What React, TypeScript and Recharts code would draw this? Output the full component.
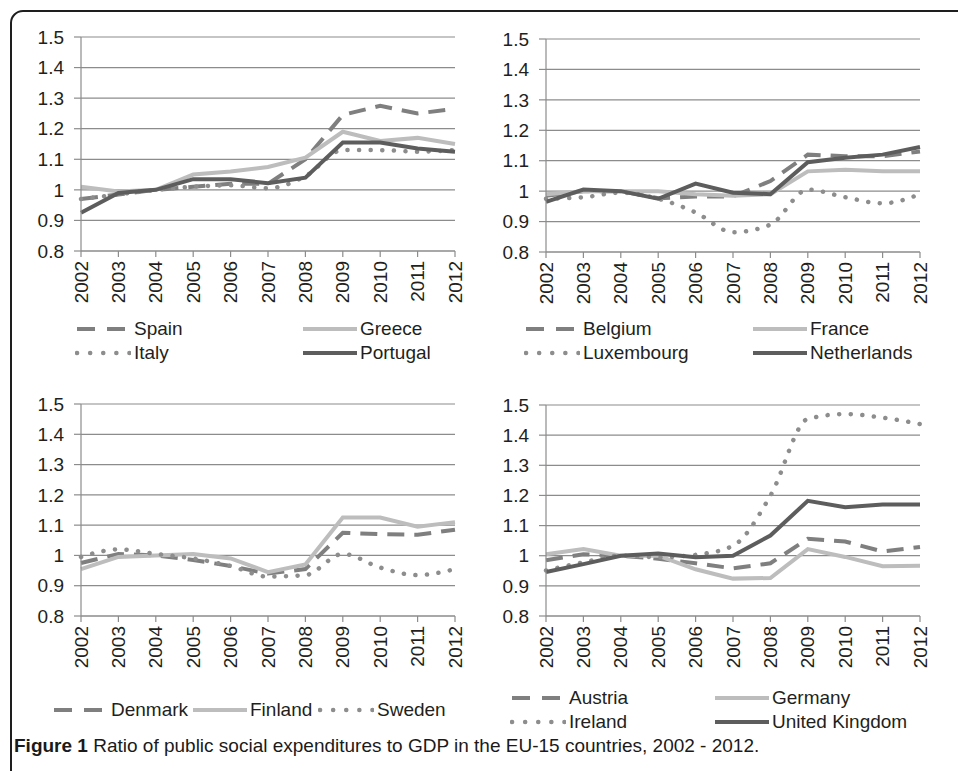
import { LineChart, Line, XAxis, YAxis, CartesianGrid, Legend } from "recharts"

const YEARS = ["2002", "2003", "2004", "2005", "2006", "2007", "2008", "2009", "2010", "2011", "2012"]
const TICKS = [0.8, 0.9, 1, 1.1, 1.2, 1.3, 1.4, 1.5]

// southern
const SPAIN = [0.97, 0.985, 1.0, 1.01, 1.02, 1.02, 1.1, 1.245, 1.275, 1.25, 1.265]
const GREECE = [1.01, 0.995, 1.0, 1.05, 1.06, 1.075, 1.105, 1.19, 1.16, 1.17, 1.15]
const ITALY = [0.97, 0.985, 1.0, 1.01, 1.015, 1.005, 1.045, 1.13, 1.13, 1.125, 1.13]
const PORTUGAL = [0.925, 0.99, 1.0, 1.035, 1.035, 1.022, 1.04, 1.155, 1.155, 1.135, 1.125]

// benelux + france
const BELGIUM = [0.985, 1.0, 1.0, 0.977, 0.982, 0.983, 1.033, 1.12, 1.115, 1.115, 1.13]
const FRANCE = [0.99, 1.0, 1.0, 1.0, 0.99, 0.985, 0.99, 1.065, 1.07, 1.065, 1.065]
const LUXEMBOURG = [0.975, 0.98, 0.995, 0.975, 0.93, 0.865, 0.89, 1.005, 0.98, 0.96, 0.99]
const NETHERLANDS = [0.965, 1.005, 1.0, 0.975, 1.025, 0.995, 0.99, 1.095, 1.11, 1.12, 1.145]

// nordic
const DENMARK = [0.975, 1.005, 1.0, 0.985, 0.965, 0.94, 0.955, 1.075, 1.07, 1.068, 1.085]
const FINLAND = [0.955, 0.995, 1.0, 1.005, 0.99, 0.945, 0.97, 1.125, 1.125, 1.095, 1.11]
const SWEDEN = [0.995, 1.02, 1.005, 0.99, 0.965, 0.93, 0.935, 1.005, 0.96, 0.935, 0.955]

// continental + anglo
const AUSTRIA = [0.985, 1.005, 1.0, 0.99, 0.975, 0.958, 0.975, 1.056, 1.047, 1.014, 1.029]
const GERMANY = [1.005, 1.022, 1.0, 1.0, 0.955, 0.924, 0.926, 1.022, 0.996, 0.965, 0.967]
const IRELAND = [0.951, 0.978, 1.0, 0.995, 1.003, 1.033, 1.199, 1.454, 1.47, 1.458, 1.437]
const UK = [0.946, 0.972, 1.0, 1.007, 0.995, 1.0, 1.067, 1.182, 1.161, 1.17, 1.17]

const FONT = "'Liberation Sans', Arial, Helvetica, sans-serif"
const TEXT = "#231f20"
const GRID = "#8c8c8c"

const STYLES: any = {
  dash: { stroke: "#7f7f7f", strokeWidth: 4, strokeDasharray: "17 10" },
  light: { stroke: "#bdbdbd", strokeWidth: 4 },
  dot: { stroke: "#8d8d8d", strokeWidth: 4.5, strokeDasharray: "0.1 11.5", strokeLinecap: "round" },
  dark: { stroke: "#5d5d5d", strokeWidth: 4 },
}

const LEGEND_STYLES: any = {
  dash: { stroke: "#7f7f7f", strokeWidth: 4, strokeDasharray: "18 12" },
  light: { stroke: "#bdbdbd", strokeWidth: 4 },
  dot: { stroke: "#8d8d8d", strokeWidth: 4.5, strokeDasharray: "0.1 13", strokeLinecap: "round" },
  dark: { stroke: "#5d5d5d", strokeWidth: 4 },
}

function table(cols: Record<string, number[]>) {
  return YEARS.map((year, i) => {
    const row: any = { year }
    for (const k of Object.keys(cols)) row[k] = cols[k][i]
    return row
  })
}

const fmt = (v: number) => String(Math.round(v * 10) / 10)

function YearTick({ x, y, payload }: any) {
  return (
    <text
      x={x}
      y={y}
      transform={`rotate(-90 ${x} ${y})`}
      textAnchor="end"
      dy="0.35em"
      fontSize={19}
      fontFamily={FONT}
      fill={TEXT}
    >
      {payload.value}
    </text>
  )
}

type Item = { name: string; kind: string; x: number; row: number }

function LegendBox({ items }: { items: Item[] }) {
  return (
    <div style={{ position: "relative", height: 48, fontFamily: FONT, fontSize: 19, color: TEXT }}>
      {items.map((it) => (
        <div
          key={it.name}
          style={{ position: "absolute", left: it.x, top: it.row * 24, height: 24, display: "flex", alignItems: "center", whiteSpace: "nowrap" }}
        >
          <svg width={56} height={12} style={{ display: "block" }}>
            <line x1={2} y1={6} x2={56} y2={6} {...LEGEND_STYLES[it.kind]} />
          </svg>
          <span style={{ marginLeft: 3 }}>{it.name}</span>
        </div>
      ))}
    </div>
  )
}

function Panel({ left, top, width, height, margin, yWidth, data, series, legend, legendTop }: any) {
  return (
    <div style={{ position: "absolute", left, top }}>
      <LineChart width={width} height={height} data={data} margin={margin}>
        <CartesianGrid vertical={false} stroke={GRID} strokeWidth={1.2} />
        <XAxis
          dataKey="year"
          interval={0}
          tickSize={6}
          tickMargin={4}
          height={66}
          stroke={GRID}
          strokeWidth={1.2}
          tick={<YearTick />}
        />
        <YAxis
          domain={[0.8, 1.5]}
          ticks={TICKS}
          allowDataOverflow
          width={yWidth}
          tickSize={7}
          tickMargin={10}
          stroke={GRID}
          strokeWidth={1.2}
          tickFormatter={fmt}
          tick={{ fontSize: 19, fontFamily: FONT, fill: TEXT }}
        />
        <Legend
          layout="horizontal"
          verticalAlign="middle"
          wrapperStyle={{ top: legendTop, left: 0, width, height: 48, margin: 0 }}
          content={() => <LegendBox items={legend} />}
        />
        {series.map((s: any) => (
          <Line
            key={s.name}
            dataKey={s.name}
            type={s.kind === "dot" ? "monotone" : "linear"}
            dot={false}
            activeDot={false}
            isAnimationActive={false}
            {...STYLES[s.kind]}
          />
        ))}
      </LineChart>
    </div>
  )
}

const south = table({ Spain: SPAIN, Greece: GREECE, Italy: ITALY, Portugal: PORTUGAL })
const west = table({ Belgium: BELGIUM, France: FRANCE, Luxembourg: LUXEMBOURG, Netherlands: NETHERLANDS })
const north = table({ Denmark: DENMARK, Finland: FINLAND, Sweden: SWEDEN })
const other = table({ Austria: AUSTRIA, Germany: GERMANY, Ireland: IRELAND, "United Kingdom": UK })

export default function App() {
  return (
    <div
      style={{
        position: "absolute",
        left: 0,
        top: 0,
        width: 958,
        height: 771,
        overflow: "hidden",
        background: "#fff",
        fontFamily: FONT,
      }}
    >
      <div
        style={{
          position: "absolute",
          left: 10,
          top: 10,
          width: 1000,
          height: 900,
          border: "2px solid #1e1e1e",
          borderRadius: 13,
        }}
      />

      <Panel
        left={0}
        top={0}
        width={470}
        height={340}
        margin={{ top: 37, right: 15, left: 0, bottom: 23 }}
        yWidth={81}
        data={south}
        legendTop={317}
        series={[
          { name: "Spain", kind: "dash" },
          { name: "Greece", kind: "light" },
          { name: "Italy", kind: "dot" },
          { name: "Portugal", kind: "dark" },
        ]}
        legend={[
          { name: "Spain", kind: "dash", x: 75, row: 0 },
          { name: "Greece", kind: "light", x: 301, row: 0 },
          { name: "Italy", kind: "dot", x: 75, row: 1 },
          { name: "Portugal", kind: "dark", x: 301, row: 1 },
        ]}
      />

      <Panel
        left={478}
        top={0}
        width={457}
        height={340}
        margin={{ top: 39, right: 15, left: 0, bottom: 22 }}
        yWidth={68}
        data={west}
        legendTop={317}
        series={[
          { name: "Belgium", kind: "dash" },
          { name: "France", kind: "light" },
          { name: "Luxembourg", kind: "dot" },
          { name: "Netherlands", kind: "dark" },
        ]}
        legend={[
          { name: "Belgium", kind: "dash", x: 46, row: 0 },
          { name: "France", kind: "light", x: 273, row: 0 },
          { name: "Luxembourg", kind: "dot", x: 46, row: 1 },
          { name: "Netherlands", kind: "dark", x: 273, row: 1 },
        ]}
      />

      <Panel
        left={0}
        top={367}
        width={470}
        height={404}
        margin={{ top: 37, right: 15, left: 0, bottom: 89 }}
        yWidth={81}
        data={north}
        legendTop={331}
        series={[
          { name: "Denmark", kind: "dash" },
          { name: "Finland", kind: "light" },
          { name: "Sweden", kind: "dot" },
        ]}
        legend={[
          { name: "Denmark", kind: "dash", x: 52, row: 0 },
          { name: "Finland", kind: "light", x: 191, row: 0 },
          { name: "Sweden", kind: "dot", x: 318, row: 0 },
        ]}
      />

      <Panel
        left={478}
        top={367}
        width={457}
        height={404}
        margin={{ top: 38, right: 15, left: 0, bottom: 89 }}
        yWidth={68}
        data={other}
        legendTop={319}
        series={[
          { name: "Austria", kind: "dash" },
          { name: "Germany", kind: "light" },
          { name: "Ireland", kind: "dot" },
          { name: "United Kingdom", kind: "dark" },
        ]}
        legend={[
          { name: "Austria", kind: "dash", x: 32, row: 0 },
          { name: "Germany", kind: "light", x: 235, row: 0 },
          { name: "Ireland", kind: "dot", x: 32, row: 1 },
          { name: "United Kingdom", kind: "dark", x: 235, row: 1 },
        ]}
      />

      <div style={{ position: "absolute", left: 14, top: 735, fontSize: 19, color: "#1a1a1a", whiteSpace: "nowrap" }}>
        <b>Figure 1</b> Ratio of public social expenditures to GDP in the EU-15 countries, 2002 - 2012.
      </div>
    </div>
  )
}
